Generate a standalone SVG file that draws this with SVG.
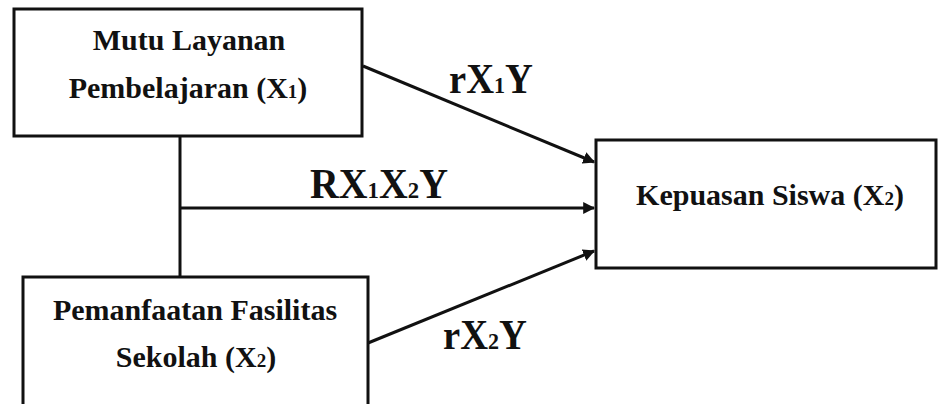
<svg xmlns="http://www.w3.org/2000/svg" width="938" height="404" viewBox="0 0 938 404">
<style>
.box{fill:#fff;stroke:#111;stroke-width:3}
.ln{stroke:#111;stroke-width:3;fill:none}
.t{font-family:"Liberation Serif","Times New Roman",serif;font-weight:bold;fill:#111;text-anchor:middle}
.bt{font-size:30px}
.lb{font-size:42px}
.s1{font-size:19px}
.s2{font-size:24px}
</style>
<defs>
<marker id="ah" viewBox="0 0 10 10" refX="9" refY="5" markerWidth="4" markerHeight="4" orient="auto" markerUnits="strokeWidth">
<path d="M0,0 L10,5 L0,10 z" fill="#111"/>
</marker>
</defs>
<rect width="938" height="404" fill="#fff"/>
<g id="connectors">
<line class="ln" x1="180" y1="136" x2="180" y2="277"/>
<line class="ln" x1="363" y1="66" x2="594" y2="162" marker-end="url(#ah)"/>
<line class="ln" x1="180" y1="208" x2="594" y2="208" marker-end="url(#ah)"/>
<line class="ln" x1="368" y1="343" x2="594" y2="251" marker-end="url(#ah)"/>
<text class="t lb" transform="translate(491,93) scale(0.92,1)">rX<tspan class="s2">1</tspan>Y</text>
<text class="t lb" transform="translate(379,198) scale(0.95,1)">RX<tspan class="s2">1</tspan>X<tspan class="s2">2</tspan>Y</text>
<text class="t lb" transform="translate(485,349) scale(0.92,1)">rX<tspan class="s2">2</tspan>Y</text>
</g>
<g id="node-x1">
<rect class="box" x="14" y="9" width="348" height="127"/>
<text class="t bt" x="189" y="50">Mutu Layanan</text>
<text class="t bt" x="188" y="98">Pembelajaran (X<tspan class="s1">1</tspan>)</text>
</g>
<g id="node-x2">
<rect class="box" x="23" y="277" width="345" height="140"/>
<text class="t bt" x="195" y="320">Pemanfaatan Fasilitas</text>
<text class="t bt" x="196" y="367">Sekolah (X<tspan class="s1">2</tspan>)</text>
</g>
<g id="node-y">
<rect class="box" x="596" y="140" width="340" height="128"/>
<text class="t bt" x="770" y="205">Kepuasan Siswa (X<tspan class="s1">2</tspan>)</text>
</g>
</svg>
